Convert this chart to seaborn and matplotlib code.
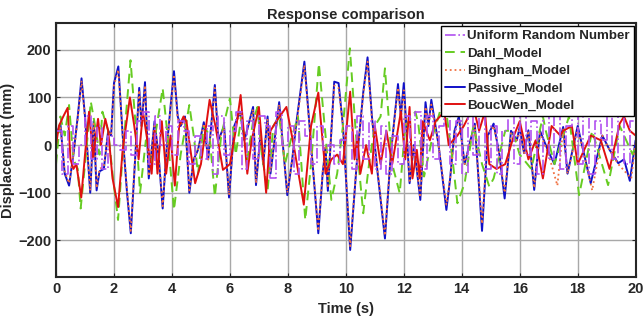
import matplotlib
matplotlib.use("Agg")
import matplotlib.pyplot as plt
import seaborn as sns
import pandas as pd
import numpy as np

# Passive_Model (blue) - peaks / troughs
t_passive = [0.0, 0.15, 0.3, 0.45, 0.6, 0.75, 0.88, 1.0, 1.18, 1.3, 1.4, 1.5, 1.65, 1.8, 1.9, 2.0, 2.15, 2.3,
             2.45, 2.58, 2.7, 2.87, 2.95, 3.07, 3.2, 3.3, 3.4, 3.55, 3.68, 3.8, 3.95, 4.07, 4.2, 4.3, 4.45, 4.6,
             4.75, 4.9, 5.1, 5.25, 5.48, 5.6, 5.8, 5.97, 6.15, 6.35, 6.5, 6.8, 6.9, 7.05, 7.15, 7.3, 7.4, 7.7,
             7.98, 8.15, 8.3, 8.57, 8.8, 9.05, 9.2, 9.3, 9.38, 9.6, 9.75, 9.9, 10.15, 10.4, 10.6, 10.75, 10.9,
             11.1, 11.35, 11.55, 11.8, 11.9, 12.0, 12.2, 12.35, 12.57, 12.75, 12.85, 12.95, 13.2, 13.47, 13.6,
             13.75, 13.9, 14.1, 14.3, 14.45, 14.7, 14.9, 15.1, 15.3, 15.48, 15.7, 15.9, 16.0, 16.15, 16.3, 16.5,
             16.7, 17.0, 17.2, 17.5, 17.65, 18.0, 18.3, 18.45, 18.85, 19.1, 19.4, 19.6, 19.8, 20.0]
v_passive = [20, 45, -60, -85, -20, 60, 140, 60, -100, 50, -95, -55, -50, 30, 20, 130, 165, 20,
             -100, -185, -60, 120, 40, 132, -70, -10, 50, -30, -133, -20, 80, 155, 60, 40, 60, -100,
             -30, -10, 48, -30, 126, 10, 40, -110, 40, 70, 10, 80, -84, 20, -40, 60, -60, 90,
             -105, -30, 50, 175, 0, -185, -60, -5, -96, 133, 130, 40, -220, -20, 110, 184, 60,
             -60, -196, -20, 128, 60, 130, -80, 0, -115, 90, 40, 95, 0, -136, -70,
             30, 60, -40, 10, 45, -180, 20, 45, -20, -112, 30, 10, 38, -17, 31, -94,
             30, -15, -40, 38, -60, 40, -40, -80, 20, -10, -38, -30, -75, 10]

# Bingham_Model (orange dotted) - follows the passive curve closely
t_bingham = [0.0, 0.15, 0.3, 0.45, 0.6, 0.75, 0.88, 1.0, 1.18, 1.3, 1.4, 1.5, 1.65, 1.8, 1.9, 2.0, 2.15, 2.3,
             2.45, 2.58, 2.7, 2.87, 2.95, 3.07, 3.2, 3.3, 3.4, 3.55, 3.68, 3.8, 3.95, 4.07, 4.2, 4.3, 4.45, 4.6,
             4.75, 4.9, 5.1, 5.25, 5.48, 5.6, 5.8, 5.97, 6.15, 6.35, 6.5, 6.8, 6.9, 7.05, 7.15, 7.3, 7.4, 7.7,
             7.98, 8.15, 8.3, 8.57, 8.8, 9.05, 9.2, 9.3, 9.38, 9.6, 9.75, 9.9, 10.15, 10.4, 10.6, 10.75, 10.9,
             11.1, 11.35, 11.55, 11.8, 11.9, 12.0, 12.2, 12.35, 12.57, 12.75, 12.85, 12.95, 13.2, 13.47, 13.6,
             13.75, 13.9, 14.1, 14.3, 14.45, 14.7, 14.9, 15.1, 15.3, 15.48, 15.7, 15.9, 16.0, 16.15, 16.3, 16.5,
             16.7, 17.0, 17.3, 17.5, 17.65, 18.0, 18.3, 18.5, 18.85, 19.1, 19.4, 19.7, 19.85, 20.0]
v_bingham = [15, 40, -55, -80, -20, 55, 135, 55, -95, 45, -90, -50, -45, 25, 20, 125, 158, 20,
             -95, -180, -55, 115, 40, 125, -65, -10, 45, -30, -128, -20, 75, 148, 55, 40, 55, -95,
             -30, -10, 45, -30, 120, 10, 35, -105, 35, 65, 10, 75, -80, 20, -40, 55, -55, 85,
             -100, -30, 45, 168, 0, -180, -55, -5, -90, 125, 120, 40, -212, -20, 105, 175, 55,
             -55, -190, -20, 120, 55, 115, -75, 0, -110, 80, 40, 85, 0, -125, -70,
             25, 55, -40, 10, 40, -165, 20, 40, -20, -100, 25, 10, 35, -17, 30, -90,
             25, -20, -85, 35, -60, 35, -40, -95, 20, -10, -40, -60, -70, 5]

# Dahl_Model (green dashed)
t_dahl = [0.0, 0.15, 0.3, 0.45, 0.6, 0.75, 0.85, 1.0, 1.2, 1.35, 1.5, 1.6, 1.8, 1.95, 2.14, 2.3, 2.57, 2.75,
          2.9, 3.1, 3.3, 3.45, 3.68, 3.85, 4.07, 4.3, 4.6, 4.75, 4.9, 5.1, 5.3, 5.48, 5.7, 6.0, 6.2, 6.4,
          6.6, 6.8, 6.95, 7.1, 7.3, 7.5, 7.7, 7.9, 8.1, 8.35, 8.6, 8.8, 9.07, 9.3, 9.5, 9.7, 9.9, 10.14,
          10.35, 10.6, 10.8, 11.0, 11.2, 11.35, 11.6, 11.86, 12.05, 12.4, 12.5, 12.7, 13.0, 13.4, 13.7,
          13.85, 14.1, 14.4, 14.7, 14.95, 15.1, 15.5, 15.75, 16.0, 16.4, 16.8, 16.9, 17.2, 17.7, 18.05,
          18.5, 19.05, 19.45, 19.9, 20.0]
v_dahl = [-40, 60, 20, 84, -30, -50, -133, -40, 91, 40, -20, 70, 30, -60, -157, -20, 178, 40,
          -100, 10, -40, 30, 119, 20, -136, -20, 84, 20, -60, 40, 20, -108, 20, 98, -20, 60,
          -30, 50, 80, -20, -95, 40, 60, -40, 10, 60, -157, -40, 171, 20, -115, -60, 40, 203,
          20, -143, -40, 40, 60, 161, -40, -101, 40, 70, 45, -66, 20, 101, -40,
          -122, -80, 40, -40, -87, -70, 30, 30, -20, -50, 60, 30, -40, 60, -105,
          30, -84, 40, -20, 0]

# BoucWen_Model (red solid)
t_boucwen = [0.0, 0.1, 0.25, 0.4, 0.5, 0.6, 0.7, 0.87, 1.0, 1.14, 1.28, 1.45, 1.55, 1.7, 1.8, 1.95, 2.14, 2.3,
             2.55, 2.7, 2.85, 3.0, 3.15, 3.3, 3.4, 3.5, 3.65, 3.8, 3.95, 4.1, 4.25, 4.4, 4.5, 4.8, 5.0, 5.3,
             5.5, 5.76, 6.0, 6.2, 6.37, 6.6, 6.75, 7.0, 7.25, 7.4, 7.6, 7.95, 8.2, 8.55, 8.8, 9.05, 9.3, 9.5,
             9.7, 9.9, 10.15, 10.3, 10.4, 10.5, 10.7, 10.9, 11.0, 11.2, 11.4, 11.6, 11.9, 12.05, 12.2, 12.3,
             12.45, 12.55, 12.65, 12.9, 13.1, 13.4, 13.55, 13.85, 14.07, 14.4, 14.6, 14.8, 14.95, 15.2, 15.5,
             15.8, 16.0, 16.3, 16.55, 16.8, 17.1, 17.4, 17.5, 17.8, 18.0, 18.45, 18.8, 19.1, 19.45, 19.6,
             19.8, 20.0]
v_boucwen = [0, 40, 60, 78, -30, -50, -40, -110, -20, 70, -25, 55, 0, 55, 30, -70, -130, -10,
             100, 40, -30, 70, 10, -60, 30, -60, 50, -60, 20, -85, 40, 60, 50, -80, -40, 95,
             40, -52, -40, 30, 105, -60, 10, 80, -100, 30, 50, 80, 0, -125, 40, 110, -60, -30,
             -20, -40, 112, -30, 20, -60, 0, -60, 40, -40, 30, -40, 70, -30, 80, -70,
             -10, -70, 50, 10, 50, 70, 0, 20, 40, 80, 30, 70, -40, -50, -40,
             20, 50, -30, 10, -70, 40, 20, 30, 40, -40, 20, 10, -50, 45, 60,
             30, 20]

# Uniform Random Number (magenta, held for 0.2 s)
t_uniform = [i / 5 for i in range(101)]
v_uniform = [30, -60, 40, -40, 0, 60, -30, 40, -50, 20,
             0, -10, 30, -20, 50, 70, -40, 60, 0, 40,
             -20, 50, 30, -40, 20, -30, 40, -60, 60, -20,
             30, 70, -50, 50, -30, 60, 40, -70, 70, 0,
             40, -60, 50, 20, -40, 40, -10, 0, -40, 10,
             40, -50, 60, -30, 50, -50, 40, -60, 20, -40,
             60, -20, 70, -50, 60, -30, 40, 70, -40, 50,
             -60, 70, -20, 60, -50, 40, -60, 30, 60, -40,
             70, -20, 50, -60, 60, -30, 70, -50, 40, 60,
             -40, 70, -60, 50, 10, 60, -30, 70, -40, 50, 50]

sns.set_style("whitegrid")
plt.rcParams['font.family'] = ['Liberation Sans', 'DejaVu Sans']
plt.rcParams['font.weight'] = 'bold'

fig = plt.figure(figsize=(6.44, 3.2), dpi=100)
ax = fig.add_axes([0.087, 0.134, 0.9, 0.794])

kw = dict(ax=ax, estimator=None, sort=False)
sns.lineplot(x=t_passive, y=v_passive, color="#1010C8", lw=1.4, label="Passive_Model", **kw)
sns.lineplot(x=t_dahl, y=v_dahl, color="#66CC22", lw=1.4, linestyle=(0, (5, 3)), label="Dahl_Model", **kw)
sns.lineplot(x=t_bingham, y=v_bingham, color="#F07040", lw=1.3, linestyle=":", label="Bingham_Model", **kw)
sns.lineplot(x=t_boucwen, y=v_boucwen, color="#E01010", lw=1.4, label="BoucWen_Model", **kw)
sns.lineplot(x=t_uniform, y=v_uniform, color="#B050F0", lw=1.2, linestyle="-.", drawstyle="steps-post",
             label="Uniform Random Number", **kw)

ax.set_xlim(0, 20)
ax.set_ylim(-277, 256)
ax.set_xticks(range(0, 21, 2))
ax.set_yticks([-200, -100, 0, 100, 200])
ax.grid(True, color="#A8A8A8", lw=1.0)
for s in ax.spines.values():
    s.set_color("#262626")
    s.set_linewidth(1.5)
ax.tick_params(direction="in", length=3, labelsize=10.5, colors="#262626", right=True, top=True,
               left=True, bottom=True)
for lab in ax.get_xticklabels() + ax.get_yticklabels():
    lab.set_fontweight("bold")
ax.set_title("Response comparison", fontsize=10.5, fontweight="bold", pad=3)
ax.set_xlabel("Time (s)", fontsize=10.5, fontweight="bold", labelpad=4)
ax.set_ylabel("Displacement (mm)", fontsize=10.5, fontweight="bold", labelpad=2)

handles, labels = ax.get_legend_handles_labels()
order = ["Uniform Random Number", "Dahl_Model", "Bingham_Model", "Passive_Model", "BoucWen_Model"]
hmap = dict(zip(labels, handles))
leg = ax.legend([hmap[k] for k in order], order, loc="upper right", bbox_to_anchor=(0.997, 0.988),
                frameon=True, fancybox=False, framealpha=1, edgecolor="black",
                handlelength=1.5, handletextpad=0.15, labelspacing=0.38, borderpad=0.3,
                borderaxespad=0.0, prop={"weight": "bold", "size": 9.6})
leg.get_frame().set_linewidth(1.0)

fig.savefig("out.png", dpi=100)
